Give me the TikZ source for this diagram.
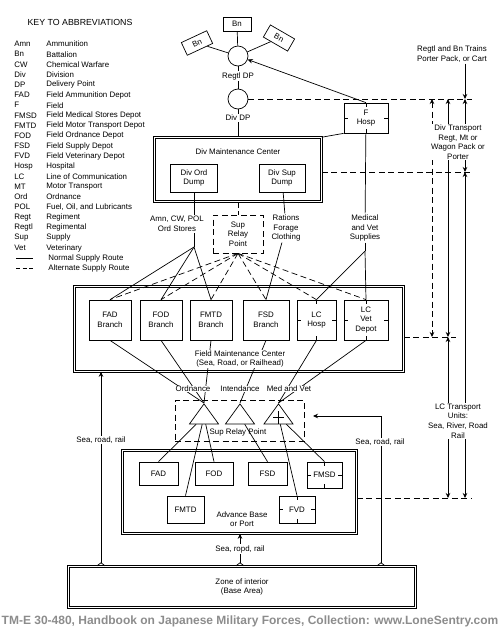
\documentclass[tikz,border=0pt]{standalone}
\usepackage{fontspec}
\setmainfont{Liberation Sans}
\usepackage{tikz}
\usetikzlibrary{shapes}
\usetikzlibrary{shapes.geometric}
\usetikzlibrary{arrows.meta}
\usetikzlibrary{positioning}
\usetikzlibrary{calc}
\definecolor{creditgray}{RGB}{140,140,140}
\tikzstyle{box}=[draw,rectangle,align=center,inner sep=1pt]
\tikzstyle{bnbox}=[box,minimum width=28pt,minimum height=14pt]
\tikzstyle{dbox}=[draw,rectangle,double,double distance=1.6pt,line width=0.6pt,inner sep=0pt,align=center]
\tikzstyle{dashbox}=[box,dashed,dash pattern=on 6pt off 3.5pt]
\tikzstyle{medbox}=[box,path picture={
  \draw (path picture bounding box.west) -- ++(4pt,0pt);
  \draw (path picture bounding box.east) -- ++(-4pt,0pt);
  \draw (path picture bounding box.north) -- ++(0pt,-4pt);
  \draw (path picture bounding box.south) -- ++(0pt,4pt);}]
\tikzstyle{dp}=[draw,circle,minimum size=20pt,inner sep=0pt]
\tikzstyle{tri}=[draw,isosceles triangle,isosceles triangle stretches,shape border rotate=90,minimum width=29pt,minimum height=20pt,inner sep=0pt,anchor=apex]
\tikzstyle{medtri}=[tri,path picture={
  \draw (path picture bounding box.south) -- ++(0pt,13pt);
  \draw ([yshift=6.5pt]path picture bounding box.south) ++(-5.5pt,0pt) -- ++(11pt,0pt);}]
\tikzstyle{lab}=[align=center,inner sep=1pt]
\tikzstyle{wlab}=[lab,fill=white]
\tikzstyle{keyab}=[anchor=west,inner sep=0pt]
\tikzstyle{arrow}=[-{Stealth[length=5pt,width=4.5pt]}]
\tikzstyle{darrow}=[{Stealth[length=5pt,width=4.5pt]}-{Stealth[length=5pt,width=4.5pt]}]
\tikzstyle{alt}=[dashed,dash pattern=on 6pt off 3.5pt]
\tikzstyle{footarrow}=[{Straight Barb[reversed,length=3pt,width=8pt]}-{Stealth[length=5pt,width=4.5pt]}]

\begin{document}
\begin{tikzpicture}
	[x=1pt,y=-1pt,font=\fontsize{7.9}{9.6}\selectfont,line width=0.7pt]
	\useasboundingbox (0,0) rectangle (500,630);
	\node (keytitle) [lab,font=\fontsize{8.8}{10}\selectfont] at (80,22) {KEY TO ABBREVIATIONS};
	\foreach \ab/\txt [count=\i] in {Amn/Ammunition,Bn/Battalion,CW/Chemical Warfare,Div/Division,
		DP/Delivery Point,FAD/Field Ammunition Depot,F/Field,FMSD/Field Medical Stores Depot,
		FMTD/Field Motor Transport Depot,FOD/Field Ordnance Depot,FSD/Field Supply Depot,
		FVD/Field Veterinary Depot,Hosp/Hospital,LC/Line of Communication,MT/Motor Transport,
		Ord/Ordnance,POL/{Fuel, Oil, and Lubricants},Regt/Regiment,Regtl/Regimental,Sup/Supply,Vet/Veterinary}
	{
		\node (ab\i) [keyab] at (14,{44+10.2*(\i-1)}) {\ab};
		\node (tx\i) [keyab] at (46,{44+10.2*(\i-1)}) {\txt};
	}
	\coordinate (normA) at (16,258.4);
	\coordinate (normB) at (33,258.4);
	\coordinate (altA) at (16,268.6);
	\coordinate (altB) at (33,268.6);
	\draw (normA) -- (normB);
	\draw[alt,dash pattern=on 4pt off 2.5pt] (altA) -- (altB);
	\node (normtx) [keyab] at (48,258.4) {Normal Supply Route};
	\node (alttx) [keyab] at (48,268.6) {Alternate Supply Route};
	% regimental and divisional delivery points
	\node (bnT) [bnbox] at (237,24) {Bn};
	\node (bnL) [bnbox,rotate=25] at (197,43) {Bn};
	\node (bnR) [bnbox,rotate=-30] at (279,38) {Bn};
	\node (regtl) [dp] at (238,56) {};
	\node (regtllab) [lab] at (238,76) {Regtl DP};
	\node (div) [dp] at (238,99) {};
	\node (divlab) [lab] at (238,118) {Div DP};
	\node (fhosp) [medbox,minimum width=44pt,minimum height=30pt] at (366,118) {F\\Hosp};
	\node (trains) [lab] at (452,54) {Regtl and Bn Trains\\Porter Pack, or Cart};
	% division
	\node (dmc) [dbox,minimum width=167pt,minimum height=64pt] at (238,169.5) {};
	\node (dmclab) [lab] at (238,152) {Div Maintenance Center};
	\node (dord) [box,minimum width=47pt,minimum height=28pt] at (194,178) {Div Ord\\Dump};
	\node (dsup) [box,minimum width=46pt,minimum height=28pt] at (282,178) {Div Sup\\Dump};
	\node (amnlab) [lab] at (177,224) {Amn, CW, POL\\Ord Stores};
	\node (srp1) [dashbox,minimum width=50pt,minimum height=38pt] at (238,234) {Sup\\Relay\\Point};
	\node (ratlab) [lab] at (286,228) {Rations\\Forage\\Clothing};
	\node (medlab) [lab] at (365,228) {Medical\\and Vet\\Supplies};
	% field maintenance center
	\node (fmc) [dbox,minimum width=329pt,minimum height=85pt] at (239,329) {};
	\node (fadb) [box,minimum width=42pt,minimum height=40pt] at (110,320) {FAD\\Branch};
	\node (fodb) [box,minimum width=42pt,minimum height=40pt] at (161,320) {FOD\\Branch};
	\node (fmtdb) [box,minimum width=42pt,minimum height=40pt] at (211,320) {FMTD\\Branch};
	\node (fsdb) [box,minimum width=46pt,minimum height=40pt] at (266,320) {FSD\\Branch};
	\node (lchosp) [medbox,minimum width=39pt,minimum height=40pt] at (316.5,320) {LC\\Hosp};
	\node (lcvet) [medbox,minimum width=44pt,minimum height=40pt] at (366,320) {LC\\Vet\\Depot};
	% relay point and advance base
	\node (srp2) [dashbox,minimum width=129pt,minimum height=41pt] at (239.5,420.5) {};
	\node (srp2lab) [lab] at (238,432) {Sup Relay Point};
	\node (ordt) [tri] at (204,403) {};
	\node (intt) [tri] at (240,403) {};
	\node (medt) [medtri] at (278.5,403) {};
	\node (abase) [dbox,minimum width=234pt,minimum height=83pt] at (239.5,492) {};
	\node (fad) [box,minimum width=39pt,minimum height=23pt] at (158.5,473.5) {FAD};
	\node (fod) [box,minimum width=38pt,minimum height=23pt] at (214,473.5) {FOD};
	\node (fsd) [box,minimum width=39pt,minimum height=23pt] at (267.5,473.5) {FSD};
	\node (fmsd) [medbox,minimum width=35pt,minimum height=26pt] at (324.5,475) {FMSD};
	\node (fmtd) [box,minimum width=37pt,minimum height=27pt] at (185.5,509.5) {FMTD};
	\node (fvd) [medbox,minimum width=36pt,minimum height=27pt] at (297,509.5) {FVD};
	\node (ablab) [lab] at (242,519) {Advance Base\\or Port};
	\node (zone) [dbox,line width=0.8pt,minimum width=347pt,minimum height=41pt] at (242,587) {Zone of interior\\(Base Area)};
	% connectors
	\draw (regtl) -- (bnT);
	\draw (regtl) -- (bnL);
	\draw (regtl) -- (bnR);
	\draw (regtl) -- (regtllab);
	\draw (regtllab) -- (div);
	\draw (div) -- (divlab);
	\draw (divlab) -- (dmc);
	\draw[arrow] (fhosp.north) -- (regtl);
	\draw (dmc.north east) -- (fhosp.south west);
	\coordinate (afan) at (194,247);
	\coordinate (mfan) at (365,251);
	\draw (dord) -- (dord |- amnlab.north);
	\draw (afan |- amnlab.south) -- (afan);
	\draw (afan) -- (fadb.north);
	\draw (afan) -- (fodb.north);
	\draw (afan) -- (fmtdb.north);
	\draw (dsup) -- (ratlab);
	\draw (ratlab) -- (fsdb.north);
	\draw (fhosp) -- (medlab);
	\draw (medlab) -- (mfan);
	\draw (mfan) -- (lchosp.north);
	\draw (mfan) -- (lcvet.north);
	\draw[alt] (dmc) -- (srp1);
	\draw[alt] (srp1.south) -- (fadb.north);
	\draw[alt] (srp1.south) -- (fodb.north);
	\draw[alt] (srp1.south) -- (fmtdb.north);
	\draw[alt] (srp1.south) -- (fsdb.north);
	\draw[alt] (srp1.south) -- (lchosp.north);
	\draw[alt] (srp1.south) -- (lcvet.north);
	\draw (fadb.south) -- (ordt.apex);
	\draw (fodb.south) -- (ordt.apex);
	\draw (fmtdb.south) -- (ordt.apex);
	\draw (fsdb.south) -- (intt.apex);
	\draw (lchosp.south) -- (medt.apex);
	\draw (lcvet.south) -- (medt.apex);
	\draw (ordt) -- (fad.north);
	\draw (ordt) -- (fmtd.north);
	\draw (ordt) -- (fod.north);
	\draw (intt) -- (fsd.north);
	\draw (medt) -- (fvd.north);
	\draw (medt) -- (fmsd.north);
	\node (fmclab) [wlab,inner sep=0.5pt] at (240,359) {Field Maintenance Center\\(Sea, Road, or Railhead)};
	\node (ordlab) [wlab,inner sep=0.5pt] at (193,389) {Ordnance};
	\node (intlab) [wlab,inner sep=0.5pt] at (240,389) {Intendance};
	\node (medvlab) [wlab,inner sep=0.5pt] at (289,389) {Med and Vet};
	% routes from the zone of interior
	\coordinate (lroad) at (101,0);
	\coordinate (croad) at (240,0);
	\coordinate (rturn) at (381,416);
	\coordinate (rtip) at (313,416);
	\draw[footarrow] (lroad |- zone.north) -- (lroad |- fmc.south);
	\draw[footarrow] (croad |- zone.north) -- (croad |- abase.south);
	\draw[footarrow] (rturn |- zone.north) -- (rturn) -- (rtip);
	\node (lsea) [wlab] at (101,440) {Sea, road, rail};
	\node (csea) [wlab] at (240,549) {Sea, ropd, rail};
	\node (rsea) [wlab] at (380,442) {Sea, road, rail};
	% transport on the right
	\coordinate (h1) at (472,99);
	\coordinate (h2) at (472,172);
	\coordinate (h3) at (456,337);
	\coordinate (h4) at (471,498);
	\coordinate (c1) at (432,0);
	\coordinate (c2) at (448,0);
	\coordinate (c3) at (465,0);
	\draw[alt] (div) -- (h1);
	\draw[alt] (dmc.east |- h2) -- (h2);
	\draw[alt] (fmc.east |- h3) -- (h3);
	\draw[alt] (abase.east |- h4) -- (h4);
	\draw[alt,darrow] (c1 |- h1) -- (c1 |- h3);
	\draw[darrow] (c2 |- h1) -- (c2 |- h3);
	\draw[darrow] (c2 |- h3) -- (c2 |- h4);
	\draw[arrow] (trains.south -| c3) -- (c3 |- h1);
	\draw[darrow] (c3 |- h1) -- (c3 |- h2);
	\draw[darrow] (c3 |- h2) -- (c3 |- h4);
	\node (divtr) [wlab] at (458,142) {Div Transport\\Regt, Mt or\\Wagon Pack or\\Porter};
	\node (lctr) [wlab] at (458,421) {LC Transport\\Units:\\Sea, River, Road\\Rail};
	\node (credit) [font=\fontsize{12}{13}\selectfont\bfseries,text=creditgray,inner sep=0pt] at (250,621) {TM-E 30-480, Handbook on Japanese Military Forces, Collection: www.LoneSentry.com};
\end{tikzpicture}
\end{document}
